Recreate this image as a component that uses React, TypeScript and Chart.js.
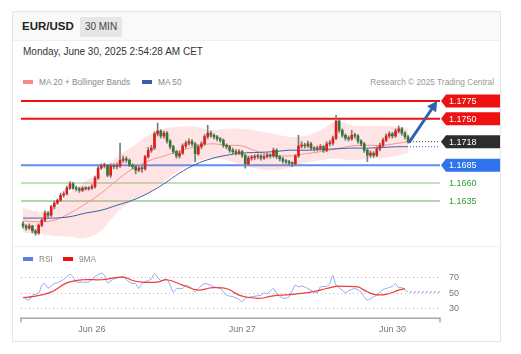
import React, { useEffect, useRef } from "react";
import { Chart, registerables } from "chart.js";

Chart.register(...registerables);

// ---------------- data ----------------
const opens = [
  1.1603, 1.16, 1.1597, 1.16, 1.1593, 1.159, 1.1601, 1.1608, 1.1618, 1.1615,
  1.1627, 1.1632, 1.1636, 1.1643, 1.1645, 1.1653, 1.1659, 1.1653, 1.1652, 1.165,
  1.1653, 1.1652, 1.1653, 1.1655, 1.1667, 1.1681, 1.1684, 1.1685, 1.1671, 1.1684,
  1.1683, 1.1684, 1.1692, 1.1694, 1.1692, 1.1685, 1.1683, 1.1678, 1.1681, 1.168,
  1.1697, 1.1706, 1.1709, 1.1729, 1.1733, 1.1726, 1.173, 1.1719, 1.1711, 1.1704,
  1.1698, 1.1702, 1.1712, 1.1716, 1.1718, 1.1715, 1.1701, 1.1711, 1.1715, 1.1725,
  1.173, 1.1727, 1.1725, 1.1722, 1.172, 1.1713, 1.1711, 1.1706, 1.1704, 1.1702,
  1.1704, 1.1699, 1.1687, 1.1695, 1.1696, 1.1697, 1.1698, 1.1695, 1.1697, 1.1699,
  1.1698, 1.1706, 1.1697, 1.1694, 1.1691, 1.169, 1.1688, 1.1687, 1.1698, 1.1712,
  1.1713, 1.1712, 1.1715, 1.1709, 1.1708, 1.1709, 1.1711, 1.1706, 1.1715, 1.1716,
  1.1723, 1.1747, 1.1734, 1.1727, 1.1723, 1.1722, 1.1727, 1.1726, 1.1719, 1.1715,
  1.1706, 1.1699, 1.1702, 1.1699, 1.1708, 1.1713, 1.172, 1.1726, 1.1729, 1.1726,
  1.1733, 1.1736, 1.173, 1.1725,
];
const closes = [
  1.16, 1.1597, 1.16, 1.1593, 1.159, 1.1601, 1.1608, 1.1618, 1.1615, 1.1627,
  1.1632, 1.1636, 1.1643, 1.1645, 1.1653, 1.1659, 1.1653, 1.1652, 1.165, 1.1653,
  1.1652, 1.1653, 1.1655, 1.1667, 1.1681, 1.1684, 1.1685, 1.1671, 1.1684, 1.1683,
  1.1684, 1.1692, 1.1694, 1.1692, 1.1685, 1.1683, 1.1678, 1.1681, 1.168, 1.1697,
  1.1706, 1.1709, 1.1729, 1.1733, 1.1726, 1.173, 1.1719, 1.1711, 1.1704, 1.1698,
  1.1702, 1.1712, 1.1716, 1.1718, 1.1715, 1.1701, 1.1711, 1.1715, 1.1725, 1.173,
  1.1727, 1.1725, 1.1722, 1.172, 1.1713, 1.1711, 1.1706, 1.1704, 1.1702, 1.1704,
  1.1699, 1.1687, 1.1695, 1.1696, 1.1697, 1.1698, 1.1695, 1.1697, 1.1699, 1.1698,
  1.1706, 1.1697, 1.1694, 1.1691, 1.169, 1.1688, 1.1687, 1.1698, 1.1712, 1.1713,
  1.1712, 1.1715, 1.1709, 1.1708, 1.1709, 1.1711, 1.1706, 1.1715, 1.1716, 1.1723,
  1.1747, 1.1734, 1.1727, 1.1723, 1.1722, 1.1727, 1.1726, 1.1719, 1.1715, 1.1706,
  1.1699, 1.1702, 1.1699, 1.1708, 1.1713, 1.172, 1.1726, 1.1729, 1.1726, 1.1733,
  1.1736, 1.173, 1.1725, 1.1718,
];
const highs = [
  1.1606, 1.1602, 1.1603, 1.1601, 1.1595, 1.1603, 1.161, 1.1621, 1.162, 1.1629,
  1.1635, 1.1638, 1.1646, 1.1648, 1.1656, 1.1662, 1.1661, 1.1656, 1.1654, 1.1655,
  1.1655, 1.1655, 1.1658, 1.167, 1.1684, 1.1687, 1.1688, 1.1686, 1.1687, 1.1687,
  1.1688, 1.1716, 1.1698, 1.1697, 1.1694, 1.1687, 1.1685, 1.1684, 1.1684, 1.1699,
  1.171, 1.1713, 1.1732, 1.1744, 1.1735, 1.1733, 1.1732, 1.1721, 1.1713, 1.1706,
  1.1705, 1.1715, 1.1719, 1.1722, 1.1721, 1.1717, 1.1714, 1.1718, 1.1728, 1.1741,
  1.1733, 1.1729, 1.1727, 1.1724, 1.1722, 1.1715, 1.1713, 1.1709, 1.1707, 1.1707,
  1.1706, 1.17, 1.1698, 1.1699, 1.17, 1.1701, 1.17, 1.17, 1.1702, 1.1701,
  1.1709, 1.1708, 1.1699, 1.1696, 1.1693, 1.1692, 1.169, 1.17, 1.1727, 1.1718,
  1.1716, 1.1719, 1.1717, 1.1711, 1.1712, 1.1714, 1.1713, 1.1718, 1.172, 1.1726,
  1.1755, 1.1749, 1.1736, 1.1729, 1.1726, 1.1734, 1.173, 1.1728, 1.1721, 1.1717,
  1.1708, 1.1705, 1.1704, 1.1711, 1.1716, 1.1723, 1.1729, 1.1732, 1.1731, 1.1736,
  1.174, 1.1738, 1.1732, 1.1727,
];
const lows = [
  1.1597, 1.1594, 1.1595, 1.159, 1.1587, 1.1588, 1.1599, 1.1606, 1.1612, 1.1613,
  1.1624, 1.163, 1.1634, 1.164, 1.1643, 1.1651, 1.1651, 1.1649, 1.1647, 1.1648,
  1.165, 1.165, 1.1651, 1.1653, 1.1665, 1.1679, 1.1681, 1.1669, 1.1668, 1.168,
  1.168, 1.1682, 1.1689, 1.1689, 1.1683, 1.168, 1.1673, 1.1676, 1.1675, 1.1678,
  1.1695, 1.1703, 1.1707, 1.1726, 1.1723, 1.1723, 1.1716, 1.1708, 1.1701, 1.1695,
  1.1695, 1.17, 1.1709, 1.1713, 1.1712, 1.169, 1.1699, 1.1708, 1.1713, 1.1722,
  1.1724, 1.1722, 1.1719, 1.1717, 1.171, 1.1708, 1.1703, 1.1701, 1.1699, 1.17,
  1.1696, 1.1681, 1.1685, 1.1692, 1.1693, 1.1694, 1.1692, 1.1693, 1.1695, 1.1695,
  1.1696, 1.1694, 1.1691, 1.1688, 1.1687, 1.1685, 1.1683, 1.1685, 1.1696, 1.1709,
  1.1709, 1.171, 1.1706, 1.1705, 1.1705, 1.1706, 1.1703, 1.1704, 1.1712, 1.1713,
  1.1721, 1.1731, 1.1724, 1.172, 1.1719, 1.172, 1.1723, 1.1716, 1.1712, 1.1703,
  1.169, 1.1696, 1.1696, 1.1697, 1.1705, 1.1711, 1.1718, 1.1723, 1.1723, 1.1724,
  1.173, 1.1727, 1.1722, 1.1716,
];

// indicator samples (candle index -> value)
const maIdx = [0, 5, 10, 15, 20, 25, 30, 35, 40, 45, 50, 55, 60, 65, 70, 75, 80, 85, 90, 95, 100, 105, 110, 115, 120, 123];
const ma20 = [1.1607, 1.1606, 1.1608, 1.1618, 1.1631, 1.1646, 1.1664, 1.168, 1.1691, 1.1698, 1.1705, 1.1711, 1.1715, 1.1713, 1.1712, 1.1704, 1.1699, 1.1698, 1.1701, 1.1704, 1.1708, 1.1712, 1.1713, 1.1713, 1.1716, 1.1718];
const bbUpper = [1.1625, 1.162, 1.1625, 1.1646, 1.1663, 1.1676, 1.1697, 1.1711, 1.1727, 1.1736, 1.1739, 1.1739, 1.1734, 1.1736, 1.1736, 1.1733, 1.1729, 1.1725, 1.1726, 1.1734, 1.1746, 1.1741, 1.174, 1.174, 1.1739, 1.1737];
const bbLower = [1.159, 1.1589, 1.1586, 1.1585, 1.1583, 1.1594, 1.1618, 1.1636, 1.1645, 1.1662, 1.1678, 1.169, 1.1694, 1.1692, 1.1685, 1.168, 1.1678, 1.1681, 1.1688, 1.1692, 1.1694, 1.1692, 1.1694, 1.1695, 1.1699, 1.1702];
const ma50 = [1.1611, 1.1611, 1.1611, 1.1613, 1.1618, 1.1622, 1.1629, 1.1636, 1.1646, 1.1659, 1.1674, 1.1686, 1.1694, 1.1699, 1.1702, 1.1703, 1.1704, 1.1706, 1.1706, 1.1707, 1.1708, 1.1709, 1.1709, 1.171, 1.1711, 1.1711];

const levelValues = [1.1775, 1.175, 1.1685, 1.166, 1.1635];
const lastPrice = 1.1718;
const targetPrice = 1.1775;
const targetIdx = 132.3;

const rsiIdx = [0, 2, 3, 5, 6, 7, 8, 10, 11, 13, 15, 16, 17, 19, 21, 23, 25, 26, 27, 29, 30, 32, 33, 35, 36, 37, 38, 40, 41, 42, 43, 44, 46, 47, 48, 49, 51, 52, 54, 55, 56, 58, 60, 61, 63, 65, 67, 69, 70, 71, 73, 76, 77, 78, 80, 81, 83, 84, 85, 87, 88, 89, 91, 93, 94, 95, 97, 98, 99, 100, 102, 103, 104, 106, 108, 109, 110, 112, 113, 115, 116, 118, 119, 120, 121, 123];
const rsiVal = [44, 40.6, 47, 49.6, 60, 62, 56, 62, 63, 67.5, 74, 70.5, 64, 64, 64, 71, 75.6, 72.7, 63, 68, 69, 71, 67, 62, 62, 55.6, 62, 66, 68, 75, 70.5, 66, 67, 60, 51, 55.6, 55.6, 60, 55.6, 51, 55.6, 62, 60, 57.7, 55.6, 47, 45, 41.5, 38.5, 43, 45, 47, 50, 49, 55.6, 49, 43, 43, 45, 60, 57.7, 59, 55.6, 51, 50, 57.7, 58.5, 62, 72.7, 60, 53.5, 50, 52.5, 55.6, 51, 45, 40.6, 45, 47, 54.3, 55.6, 58.5, 62, 56.5, 57, 51];
const rsiMaIdx = [0, 3, 9, 14, 19, 25, 32, 35, 38, 43, 46, 51, 56, 60, 65, 69, 72, 76, 79, 82, 86, 92, 97, 100, 102, 107, 109, 112, 116, 120, 122];
const rsiMaVal = [44, 45, 51, 63, 67, 67, 70.5, 66, 64, 64, 67, 60, 53.5, 56.5, 55.6, 47, 44, 43, 45.5, 47, 48, 51, 55.6, 58.5, 58.5, 57.7, 53.5, 48, 48, 53.5, 55.6];
const rsiLevels = [70, 50, 30];

const dateTickIdx = [22, 70, 118];
const dateTickLabels = ["Jun 26", "Jun 27", "Jun 30"];

// ---------------- styles ----------------
const FONT = '"Liberation Sans", Arial, Helvetica, sans-serif';
const UP = "#e31b1b";
const DOWN = "#2f7a33";
const X_MIN = -0.64;
const X_MAX = 133.2;
const levelStyles = [
  { line: "#f01010", width: 2, tag: "#ee1111", text: "#ffffff" },
  { line: "#f01010", width: 2, tag: "#ee1111", text: "#ffffff" },
  { line: "#5b8ff0", width: 2, tag: "#2f74ee", text: "#ffffff" },
  { line: "#aad6a2", width: 1.5, tag: null, text: "#33a033" },
  { line: "#98c894", width: 1.5, tag: null, text: "#33a033" },
];

function drawTag(ctx: any, xl: number, yc: number, w: number, color: string, text: string, textColor: string) {
  const h = 13;
  ctx.fillStyle = color;
  ctx.beginPath();
  ctx.moveTo(xl, yc);
  ctx.lineTo(xl + 5, yc - h / 2);
  ctx.lineTo(xl + w, yc - h / 2);
  ctx.lineTo(xl + w, yc + h / 2);
  ctx.lineTo(xl + 5, yc + h / 2);
  ctx.closePath();
  ctx.fill();
  ctx.fillStyle = textColor;
  ctx.fillText(text, xl + 8, yc + 0.5);
}

const mainDeco = {
  id: "mainDeco",
  beforeDatasetsDraw(chart: any) {
    const { ctx, chartArea: a, scales } = chart;
    const y = scales.y;
    ctx.save();
    levelValues.forEach((v, k) => {
      const st = levelStyles[k];
      const py = y.getPixelForValue(v);
      ctx.strokeStyle = st.line;
      ctx.lineWidth = st.width;
      ctx.beginPath();
      ctx.moveTo(a.left, py);
      ctx.lineTo(a.right, py);
      ctx.stroke();
    });
    ctx.restore();
  },
  afterDatasetsDraw(chart: any) {
    const { ctx, chartArea: a, scales } = chart;
    const x = scales.x;
    const y = scales.y;
    const last = closes.length - 1;
    ctx.save();
    const xs = x.getPixelForValue(last) + 2;
    ctx.setLineDash([1, 2]);
    ctx.lineWidth = 1;
    ctx.strokeStyle = "#333";
    let py = y.getPixelForValue(lastPrice);
    ctx.beginPath();
    ctx.moveTo(xs, py);
    ctx.lineTo(a.right, py);
    ctx.stroke();
    ctx.strokeStyle = "#3d5fa8";
    py = y.getPixelForValue(ma50[ma50.length - 1]);
    ctx.beginPath();
    ctx.moveTo(xs, py);
    ctx.lineTo(a.right, py);
    ctx.stroke();
    ctx.setLineDash([]);

    // arrow
    const x0 = x.getPixelForValue(last + 0.5);
    const y0 = y.getPixelForValue(lastPrice);
    const x1 = x.getPixelForValue(targetIdx);
    const y1 = y.getPixelForValue(targetPrice);
    const ang = Math.atan2(y1 - y0, x1 - x0);
    const hl = 10;
    const hw = 5.5;
    const bx = x1 - hl * Math.cos(ang);
    const by = y1 - hl * Math.sin(ang);
    ctx.strokeStyle = "#2e63ad";
    ctx.fillStyle = "#2e63ad";
    ctx.lineWidth = 3;
    ctx.lineCap = "round";
    ctx.beginPath();
    ctx.moveTo(x0, y0);
    ctx.lineTo(bx, by);
    ctx.stroke();
    ctx.beginPath();
    ctx.moveTo(x1, y1);
    ctx.lineTo(bx + hw * Math.sin(ang), by - hw * Math.cos(ang));
    ctx.lineTo(bx - hw * Math.sin(ang), by + hw * Math.cos(ang));
    ctx.closePath();
    ctx.fill();

    // tags
    ctx.font = "9px " + FONT;
    ctx.textBaseline = "middle";
    ctx.textAlign = "left";
    const xl = a.right + 1;
    const w = chart.width - xl;
    levelValues.forEach((v, k) => {
      const st = levelStyles[k];
      const yc = y.getPixelForValue(v);
      if (st.tag) drawTag(ctx, xl, yc, w, st.tag, v.toFixed(4), st.text);
      else {
        ctx.fillStyle = st.text;
        ctx.fillText(v.toFixed(4), xl + 8, yc + 0.5);
      }
    });
    drawTag(ctx, xl, y.getPixelForValue(lastPrice), w, "#2d2d2d", lastPrice.toFixed(4), "#ffffff");
    ctx.restore();
  },
};

const rsiDeco = {
  id: "rsiDeco",
  beforeDatasetsDraw(chart: any) {
    const { ctx, chartArea: a, scales } = chart;
    const y = scales.y;
    ctx.save();
    ctx.strokeStyle = "#b8b8b8";
    ctx.lineWidth = 1;
    ctx.setLineDash([1, 3]);
    ctx.font = "9px " + FONT;
    ctx.textBaseline = "middle";
    ctx.fillStyle = "#777";
    rsiLevels.forEach((v) => {
      const py = Math.round(y.getPixelForValue(v)) + 0.5;
      ctx.beginPath();
      ctx.moveTo(a.left, py);
      ctx.lineTo(a.right, py);
      ctx.stroke();
      ctx.fillText(String(v), a.right + 9, py);
    });
    ctx.restore();
  },
  afterDatasetsDraw(chart: any) {
    const { ctx, chartArea: a, scales } = chart;
    const x = scales.x;
    const y = scales.y;
    ctx.save();
    // continuation of last RSI value
    const lx = x.getPixelForValue(rsiIdx[rsiIdx.length - 1]);
    const ly = y.getPixelForValue(rsiVal[rsiVal.length - 1]);
    ctx.strokeStyle = "#8fa8ee";
    ctx.lineWidth = 1.5;
    ctx.setLineDash([1.5, 2.5]);
    ctx.beginPath();
    ctx.moveTo(lx + 2, ly);
    ctx.lineTo(a.right, ly);
    ctx.stroke();
    ctx.setLineDash([]);
    // axis
    const by = a.bottom;
    ctx.strokeStyle = "#a8a8a8";
    ctx.lineWidth = 1.5;
    ctx.beginPath();
    ctx.moveTo(a.left, by);
    ctx.lineTo(a.right, by);
    ctx.moveTo(a.left, by - 1);
    ctx.lineTo(a.left, by + 4);
    ctx.moveTo(a.right, by - 1);
    ctx.lineTo(a.right, by + 4);
    ctx.stroke();
    ctx.fillStyle = "#777";
    ctx.font = "9px " + FONT;
    ctx.textAlign = "center";
    ctx.textBaseline = "middle";
    dateTickIdx.forEach((idx, k) => {
      ctx.fillText(dateTickLabels[k], x.getPixelForValue(idx), by + 11);
    });
    ctx.restore();
  },
};

export default function App() {
  const mainRef = useRef<HTMLCanvasElement>(null);
  const rsiRef = useRef<HTMLCanvasElement>(null);

  useEffect(() => {
    const idx = closes.map((_, i) => i);
    const colors = closes.map((c, i) => (c >= opens[i] ? UP : DOWN));
    const pts = (xs: number[], ys: number[]) => xs.map((v, k) => ({ x: v, y: ys[k] }));
    const main = new Chart(mainRef.current as any, {
      type: "bar",
      data: {
        datasets: [
          {
            type: "bar",
            data: idx.map((i) => ({ x: i, y: [opens[i], closes[i]] })),
            backgroundColor: colors,
            barThickness: 2,
            minBarLength: 1,
            grouped: false,
            borderWidth: 0,
            order: 0,
          },
          {
            type: "bar",
            data: idx.map((i) => ({ x: i, y: [lows[i], highs[i]] })),
            backgroundColor: "#7a7a7a",
            barThickness: 1,
            grouped: false,
            borderWidth: 0,
            order: 1,
          },
          {
            type: "line",
            data: pts(maIdx, ma50),
            borderColor: "#3d5fa8",
            borderWidth: 1,
            pointRadius: 0,
            tension: 0.4,
            order: 2,
          },
          {
            type: "line",
            data: pts(maIdx, ma20),
            borderColor: "#f4938c",
            borderWidth: 1,
            pointRadius: 0,
            tension: 0.4,
            order: 2,
          },
          {
            type: "line",
            data: pts(maIdx, bbUpper),
            borderColor: "rgba(0,0,0,0)",
            borderWidth: 0,
            pointRadius: 0,
            tension: 0.4,
            fill: false,
            order: 3,
          },
          {
            type: "line",
            data: pts(maIdx, bbLower),
            borderColor: "rgba(0,0,0,0)",
            borderWidth: 0,
            pointRadius: 0,
            tension: 0.4,
            fill: "-1",
            backgroundColor: "rgba(250,120,120,0.2)",
            order: 3,
          },
        ],
      } as any,
      options: {
        animation: false,
        responsive: false,
        maintainAspectRatio: false,
        devicePixelRatio: 1,
        events: [],
        layout: { padding: { left: 9, right: 60, top: 4, bottom: 4 } },
        plugins: { legend: { display: false }, tooltip: { enabled: false } },
        scales: {
          x: { type: "linear", min: X_MIN, max: X_MAX, display: false, offset: false },
          y: { type: "linear", min: 1.15747, max: 1.17876, display: false },
        },
      } as any,
      plugins: [mainDeco],
    });

    const rsi = new Chart(rsiRef.current as any, {
      type: "line",
      data: {
        datasets: [
          {
            data: pts(rsiMaIdx, rsiMaVal),
            borderColor: "#f03c3c",
            borderWidth: 1.2,
            pointRadius: 0,
            tension: 0.4,
          },
          {
            data: pts(rsiIdx, rsiVal),
            borderColor: "#8fa8ee",
            borderWidth: 1,
            pointRadius: 0,
            tension: 0.25,
          },
        ],
      } as any,
      options: {
        animation: false,
        responsive: false,
        maintainAspectRatio: false,
        devicePixelRatio: 1,
        events: [],
        layout: { padding: { left: 9, right: 60, top: 14, bottom: 23.7 } },
        plugins: { legend: { display: false }, tooltip: { enabled: false } },
        scales: {
          x: { type: "linear", min: X_MIN, max: X_MAX, display: false, offset: false },
          y: { type: "linear", min: 17, max: 90, display: false },
        },
      } as any,
      plugins: [rsiDeco],
    });

    return () => {
      main.destroy();
      rsi.destroy();
    };
  }, []);

  const abs = (s: any) => ({ position: "absolute" as const, ...s });

  return (
    <div style={abs({ left: 0, top: 0, width: 521, height: 354, fontFamily: FONT, background: "#fff" })}>
      <div style={abs({ left: 12, top: 11, width: 489, height: 331, border: "1px solid #e6e6e6", boxSizing: "border-box" })} />
      <div style={abs({ left: 13, top: 12, width: 487, height: 28, background: "#f9f9f9", borderBottom: "1px solid #efefef" })} />
      <div style={abs({ left: 22, top: 19, height: 15, lineHeight: "15px", fontSize: 11.5, fontWeight: "bold", color: "#222" })}>EUR/USD</div>
      <div style={abs({ left: 80, top: 17, width: 42, height: 20, lineHeight: "20px", fontSize: 10, color: "#444", background: "#e6e6e6", textAlign: "center" })}>30 MIN</div>
      <div style={abs({ left: 23, top: 45, height: 13, lineHeight: "13px", fontSize: 10, color: "#333", whiteSpace: "nowrap" })}>Monday, June 30, 2025 2:54:28 AM CET</div>

      <div style={abs({ left: 23, top: 80, width: 10, height: 4, background: "#f58a8a" })} />
      <div style={abs({ left: 39, top: 77, height: 11, lineHeight: "11px", fontSize: 8.3, color: "#888", whiteSpace: "nowrap" })}>MA 20 + Bollinger Bands</div>
      <div style={abs({ left: 142, top: 80, width: 10, height: 4, background: "#3c5ea6" })} />
      <div style={abs({ left: 158, top: 77, height: 11, lineHeight: "11px", fontSize: 8.3, color: "#888", whiteSpace: "nowrap" })}>MA 50</div>
      <div style={abs({ left: 300, width: 194, top: 77, height: 11, lineHeight: "11px", fontSize: 8.3, color: "#999", textAlign: "right", whiteSpace: "nowrap" })}>Research © 2025 Trading Central</div>

      <canvas ref={mainRef} width={488} height={160} style={abs({ left: 12, top: 88, width: 488, height: 160 })} />

      <div style={abs({ left: 13, top: 246, width: 487, height: 0, borderTop: "1px dotted #e2e2e2" })} />
      <div style={abs({ left: 23, top: 257, width: 10, height: 4, background: "#5b7fe0" })} />
      <div style={abs({ left: 39, top: 254, height: 11, lineHeight: "11px", fontSize: 8.3, color: "#888" })}>RSI</div>
      <div style={abs({ left: 63, top: 257, width: 10, height: 4, background: "#ee1111" })} />
      <div style={abs({ left: 79, top: 254, height: 11, lineHeight: "11px", fontSize: 8.3, color: "#888" })}>9MA</div>

      <canvas ref={rsiRef} width={488} height={94} style={abs({ left: 12, top: 248, width: 488, height: 94 })} />
    </div>
  );
}
